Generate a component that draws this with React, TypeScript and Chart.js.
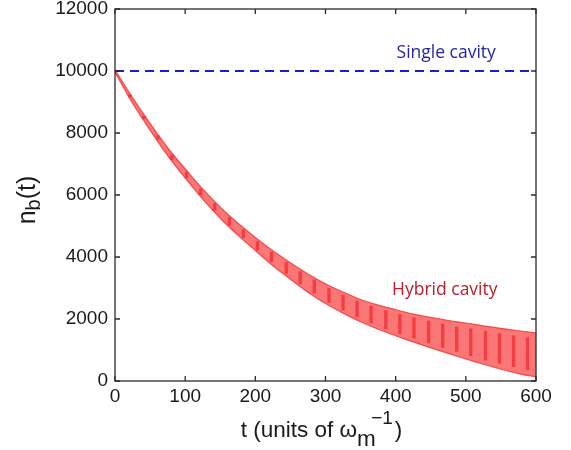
import React, { useEffect, useRef } from "react";
import { Chart, registerables } from "chart.js";

Chart.register(...registerables);

// ---- data ----
const xTicks = [0, 100, 200, 300, 400, 500, 600];
const yTicks = [0, 2000, 4000, 6000, 8000, 10000, 12000];

const timeGrid = [0, 25, 50, 75, 100, 125, 150, 175, 200, 225, 250, 275, 300, 325, 350, 375, 400, 425, 450, 475, 500, 525, 550, 575, 600];
const hybridUpper = [10040, 9140, 8310, 7530, 6850, 6195, 5610, 5095, 4630, 4200, 3815, 3455, 3140, 2870, 2630, 2450, 2300, 2160, 2050, 1950, 1870, 1780, 1700, 1620, 1550];
const hybridLower = [9960, 8960, 8090, 7270, 6550, 5865, 5250, 4705, 4210, 3720, 3285, 2865, 2500, 2190, 1910, 1670, 1460, 1260, 1070, 890, 710, 540, 380, 240, 130];

const stripeT = [21, 41, 61, 81, 102, 122, 142, 163, 183, 203, 223, 244, 264, 284, 305, 325, 345, 365, 386, 406, 426, 447, 467, 487, 507, 528, 548, 568, 588];
const stripeLow = [9150, 8440, 7780, 7130, 6550, 5990, 5500, 5020, 4610, 4210, 3830, 3460, 3120, 2825, 2520, 2275, 2055, 1855, 1680, 1520, 1370, 1215, 1075, 940, 810, 670, 560, 450, 355];
const stripeHigh = [9250, 8560, 7920, 7310, 6750, 6210, 5740, 5280, 4890, 4510, 4170, 3840, 3540, 3275, 3000, 2785, 2585, 2425, 2280, 2160, 2050, 1945, 1845, 1760, 1690, 1610, 1540, 1470, 1405];

const singleT = [0, 600];
const singleN = [10000, 10000];

const singleLabel = { text: "Single cavity", t: 472, n: 10420 };
const hybridLabel = { text: "Hybrid cavity", t: 470, n: 2770 };

const W = 571;
const H = 450;

const toXY = (xs: number[], ys: number[]) => xs.map((x, i) => ({ x, y: ys[i] }));

export default function App() {
  const ref = useRef<HTMLCanvasElement | null>(null);

  useEffect(() => {
    if (!ref.current) return;

    const stripeData: any[] = [];
    stripeT.forEach((t, i) => {
      stripeData.push({ x: t, y: stripeLow[i] }, { x: t, y: stripeHigh[i] }, { x: t, y: null });
    });

    const framePlugin = {
      id: "frameAndText",
      afterDatasetsDraw(chart: any) {
        const { ctx, scales } = chart;
        ctx.save();
        ctx.textAlign = "center";
        ctx.textBaseline = "alphabetic";
        ctx.font = "17.5px 'Open Sans', sans-serif";
        ctx.fillStyle = "#2626a6";
        ctx.fillText(singleLabel.text, scales.x.getPixelForValue(singleLabel.t), scales.y.getPixelForValue(singleLabel.n));
        ctx.fillStyle = "#be1a28";
        ctx.fillText(hybridLabel.text, scales.x.getPixelForValue(hybridLabel.t), scales.y.getPixelForValue(hybridLabel.n));
        ctx.restore();
      },
      afterDraw(chart: any) {
        const { ctx, chartArea: a, scales } = chart;
        ctx.save();
        ctx.strokeStyle = "#2a2a2a";
        ctx.lineWidth = 1.3;
        ctx.strokeRect(a.left, a.top, a.right - a.left, a.bottom - a.top);
        const L = 5;
        ctx.beginPath();
        xTicks.forEach((v) => {
          const px = scales.x.getPixelForValue(v);
          ctx.moveTo(px, a.bottom);
          ctx.lineTo(px, a.bottom - L);
          ctx.moveTo(px, a.top);
          ctx.lineTo(px, a.top + L);
        });
        yTicks.forEach((v) => {
          const py = scales.y.getPixelForValue(v);
          ctx.moveTo(a.left, py);
          ctx.lineTo(a.left + L, py);
          ctx.moveTo(a.right, py);
          ctx.lineTo(a.right - L, py);
        });
        ctx.stroke();

        // x axis title: t (units of ω_m^-1)
        ctx.fillStyle = "#1a1a1a";
        ctx.textBaseline = "alphabetic";
        ctx.textAlign = "left";
        const big = "22.5px 'Liberation Sans', Arial, sans-serif";
        const small = "19px 'Liberation Sans', Arial, sans-serif";
        const p1 = "t (units of \u03C9";
        const p2 = "m";
        const p3 = "\u22121";
        const p4 = ")";
        ctx.font = big;
        const w1 = ctx.measureText(p1).width;
        const w2 = ctx.measureText(p2).width;
        const w4 = ctx.measureText(p4).width;
        ctx.font = small;
        const w3 = ctx.measureText(p3).width;
        const supStart = w1 + w2 * 0.75;
        const total = Math.max(w1 + w2, supStart + w3) + 2 + w4;
        const cx = (a.left + a.right) / 2 - 4;
        const x0 = cx - total / 2;
        const base = 437;
        ctx.font = big;
        ctx.fillText(p1, x0, base);
        ctx.fillText(p2, x0 + w1, base + 9);
        ctx.font = small;
        ctx.fillText(p3, x0 + supStart, base - 13);
        ctx.font = big;
        ctx.fillText(p4, x0 + total - w4, base);

        // y axis title: n_b(t)
        ctx.save();
        ctx.translate(35, 200);
        ctx.rotate(-Math.PI / 2);
        const ybig = "25px 'Liberation Sans', Arial, sans-serif";
        const ysmall = "20px 'Liberation Sans', Arial, sans-serif";
        ctx.font = ybig;
        const q1 = "n";
        const q2 = "b";
        const q3 = "(t)";
        const v1 = ctx.measureText(q1).width;
        ctx.font = ysmall;
        const v2 = ctx.measureText(q2).width;
        ctx.font = ybig;
        const v3 = ctx.measureText(q3).width;
        const tot = v1 + v2 + v3;
        ctx.fillText(q1, -tot / 2, 0);
        ctx.font = ysmall;
        ctx.fillText(q2, -tot / 2 + v1, 5);
        ctx.font = ybig;
        ctx.fillText(q3, -tot / 2 + v1 + v2, 0);
        ctx.restore();

        ctx.restore();
      },
    };

    const tickFont = { family: "'Liberation Sans', Arial, sans-serif", size: 19 };

    const chart = new Chart(ref.current, {
      type: "line",
      data: {
        datasets: [
          {
            label: "lower",
            data: toXY(timeGrid, hybridLower),
            borderColor: "rgba(240,50,50,0.8)",
            borderWidth: 1.2,
            pointRadius: 0,
            fill: false,
            tension: 0.3,
          },
          {
            label: "upper",
            data: toXY(timeGrid, hybridUpper),
            borderColor: "rgba(240,50,50,0.8)",
            backgroundColor: "rgba(248,70,72,0.74)",
            borderWidth: 1.2,
            pointRadius: 0,
            fill: "-1",
            tension: 0.3,
          },
          {
            label: "stripes",
            data: stripeData,
            borderColor: "rgba(220,0,22,0.85)",
            borderWidth: 3.4,
            pointRadius: 0,
            spanGaps: false,
            fill: false,
          },
          {
            label: "Single cavity",
            data: toXY(singleT, singleN),
            borderColor: "#1c1cd6",
            borderWidth: 2,
            borderDash: [9, 6],
            pointRadius: 0,
            fill: false,
          },
        ],
      } as any,
      options: {
        animation: false,
        responsive: false,
        devicePixelRatio: 1,
        layout: { padding: { top: 9, right: 35, left: 0, bottom: 0 } },
        plugins: { legend: { display: false }, tooltip: { enabled: false } },
        scales: {
          x: {
            type: "linear",
            min: 0,
            max: 600,
            grid: { display: false, drawTicks: false },
            border: { display: false },
            afterBuildTicks: (s: any) => {
              s.ticks = xTicks.map((v) => ({ value: v }));
            },
            afterFit: (s: any) => {
              s.height = 69;
            },
            ticks: {
              font: tickFont,
              color: "#1a1a1a",
              padding: 4,
              maxRotation: 0,
              autoSkip: false,
              callback: (v: any) => String(v),
            },
          },
          y: {
            type: "linear",
            min: 0,
            max: 12000,
            grid: { display: false, drawTicks: false },
            border: { display: false },
            afterBuildTicks: (s: any) => {
              s.ticks = yTicks.map((v) => ({ value: v }));
            },
            afterFit: (s: any) => {
              s.width = 115;
              s.paddingTop = 0;
              s.paddingBottom = 0;
            },
            ticks: {
              font: tickFont,
              color: "#1a1a1a",
              padding: 7,
              autoSkip: false,
              callback: (v: any) => String(v),
            },
          },
        },
      } as any,
      plugins: [framePlugin],
    });

    return () => chart.destroy();
  }, []);

  return (
    <div style={{ position: "fixed", left: 0, top: 0, width: W, height: H, background: "#fff" }}>
      <canvas ref={ref} width={W} height={H} style={{ width: W, height: H, display: "block" }} />
    </div>
  );
}
